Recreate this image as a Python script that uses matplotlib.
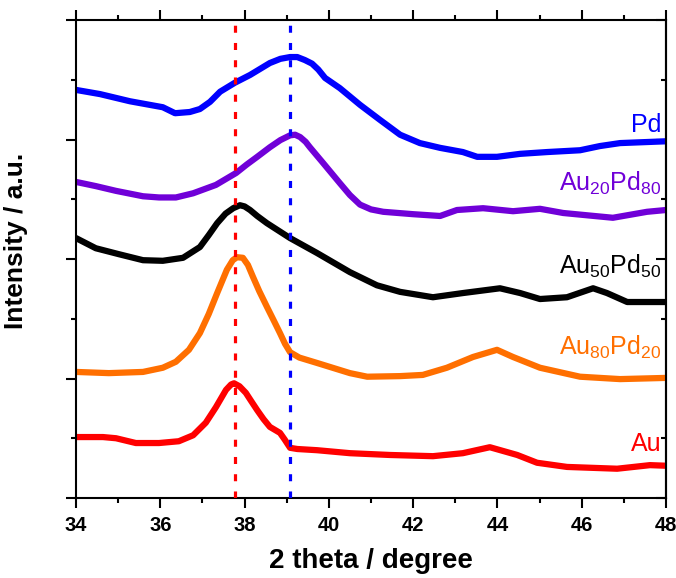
import matplotlib
matplotlib.use("Agg")
import matplotlib.pyplot as plt
from matplotlib.ticker import MultipleLocator, NullFormatter

# ==========================================
# Data (2 theta, offset intensity)
# ==========================================

pd_x = [34.00, 34.57, 35.28, 36.06, 36.35, 36.70, 36.94, 37.18, 37.42, 37.77,
        38.13, 38.60, 38.85, 39.08, 39.25, 39.43, 39.60, 39.75, 39.91, 40.26,
        40.74, 41.21, 41.69, 42.16, 42.64, 43.18, 43.52, 43.99, 44.54, 45.18,
        45.96, 46.43, 46.91, 48.00]
pd_y = [6.83, 6.76, 6.64, 6.54, 6.44, 6.46, 6.51, 6.63, 6.80, 6.95,
        7.08, 7.28, 7.35, 7.38, 7.38, 7.33, 7.27, 7.17, 7.03, 6.86,
        6.58, 6.33, 6.08, 5.94, 5.86, 5.79, 5.71, 5.71, 5.76, 5.79,
        5.82, 5.89, 5.94, 5.97]

au20_x = [34.00, 34.47, 34.95, 35.59, 35.97, 36.37, 36.78, 37.32, 37.80, 38.05,
          38.30, 38.60, 38.85, 39.08, 39.20, 39.32, 39.45, 39.55, 39.86, 40.26,
          40.50, 40.74, 41.00, 41.29, 42.00, 42.64, 43.04, 43.66, 44.37, 45.01,
          45.56, 46.74, 47.55, 48.00]
au20_y = [5.29, 5.22, 5.14, 5.05, 5.03, 5.03, 5.10, 5.24, 5.44, 5.58,
          5.71, 5.87, 5.99, 6.07, 6.08, 6.04, 5.96, 5.87, 5.61, 5.27,
          5.07, 4.91, 4.83, 4.79, 4.75, 4.72, 4.82, 4.85, 4.80, 4.84,
          4.77, 4.69, 4.79, 4.82]

au50_x = [34.00, 34.47, 35.02, 35.59, 36.06, 36.54, 36.94, 37.15, 37.35, 37.55,
          37.73, 37.89, 38.00, 38.13, 38.30, 38.53, 39.08, 39.72, 40.50, 41.14,
          41.69, 42.47, 43.18, 44.06, 44.54, 45.01, 45.65, 46.27, 46.60, 47.08,
          48.00]
au50_y = [4.35, 4.18, 4.08, 3.98, 3.97, 4.02, 4.20, 4.40, 4.60, 4.76,
          4.85, 4.90, 4.88, 4.82, 4.72, 4.60, 4.35, 4.10, 3.78, 3.56,
          3.45, 3.36, 3.43, 3.51, 3.43, 3.33, 3.36, 3.51, 3.43, 3.28,
          3.28]

au80_x = [34.00, 34.78, 35.59, 36.06, 36.37, 36.68, 36.94, 37.15, 37.35, 37.58,
          37.72, 37.82, 37.96, 38.08, 38.20, 38.35, 38.53, 38.70, 38.84, 38.96,
          39.08, 39.30, 39.72, 40.50, 40.91, 41.69, 42.23, 42.80, 43.42, 43.99,
          44.37, 45.01, 45.96, 46.91, 48.00]
au80_y = [2.11, 2.09, 2.11, 2.18, 2.28, 2.48, 2.76, 3.08, 3.43, 3.82,
          3.98, 4.03, 4.02, 3.90, 3.70, 3.46, 3.20, 2.96, 2.76, 2.58,
          2.44, 2.35, 2.26, 2.09, 2.03, 2.04, 2.06, 2.18, 2.36, 2.48,
          2.36, 2.18, 2.03, 1.99, 2.01]

au_x = [34.00, 34.64, 34.95, 35.42, 35.97, 36.44, 36.78, 37.08, 37.32, 37.56,
        37.68, 37.75, 37.88, 38.03, 38.15, 38.30, 38.45, 38.60, 38.84, 38.95,
        39.08, 39.25, 39.72, 40.50, 41.45, 42.47, 43.18, 43.82, 44.47, 44.94,
        45.65, 46.84, 47.62, 48.00]
au_y = [1.02, 1.02, 1.00, 0.92, 0.92, 0.95, 1.05, 1.26, 1.52, 1.81,
        1.90, 1.92, 1.87, 1.76, 1.63, 1.47, 1.32, 1.19, 1.09, 0.98,
        0.84, 0.82, 0.80, 0.75, 0.72, 0.70, 0.75, 0.85, 0.72, 0.59,
        0.52, 0.49, 0.55, 0.54]

series_names = ["Pd", "Au$_{20}$Pd$_{80}$", "Au$_{50}$Pd$_{50}$",
                "Au$_{80}$Pd$_{20}$", "Au"]
series_colors = ["#0000FF", "#7000D8", "#000000", "#FF6F00", "#FF0000"]
label_y = [6.13, 5.14, 3.75, 2.39, 0.79]

au_peak = 37.77
pd_peak = 39.08

# ==========================================
# Figure
# ==========================================

plt.rcParams["font.family"] = ["Liberation Sans", "DejaVu Sans"]
plt.rcParams["mathtext.default"] = "regular"

fig = plt.figure(figsize=(6.76, 5.78), dpi=100)
ax = fig.add_axes([76 / 676, 1 - 498 / 578, 590 / 676, 478 / 578])

xs = [pd_x, au20_x, au50_x, au80_x, au_x]
ys = [pd_y, au20_y, au50_y, au80_y, au_y]

for x, y, c in zip(xs, ys, series_colors):
    ax.plot(x, y, color=c, lw=4.5, solid_capstyle="round",
            solid_joinstyle="round", zorder=2)

for xv, c in [(au_peak, "#FF0000"), (pd_peak, "#0000FF")]:
    ax.axvline(xv, color=c, lw=2.3, dashes=(2.2, 3.2), zorder=3)

for name, c, yv in zip(series_names, series_colors, label_y):
    ax.text(47.9, yv, name, color=c, fontsize=18, ha="right",
            va="baseline")

ax.set_xlim(34, 48)
ax.set_ylim(0, 8)

ax.xaxis.set_major_locator(MultipleLocator(2))
ax.xaxis.set_minor_locator(MultipleLocator(1))
ax.yaxis.set_major_locator(MultipleLocator(2))
ax.yaxis.set_minor_locator(MultipleLocator(1))
ax.yaxis.set_major_formatter(NullFormatter())

for s in ax.spines.values():
    s.set_linewidth(1.5)

ax.tick_params(axis="x", which="both", direction="out", top=True,
               width=1.5, labelsize=14.5, pad=6)
ax.tick_params(axis="x", which="major", length=7)
ax.tick_params(axis="x", which="minor", length=3.5)
ax.tick_params(axis="y", which="both", direction="out", left=True,
               right=False, width=1.5)
ax.tick_params(axis="y", which="major", length=7)
ax.tick_params(axis="y", which="minor", length=3.5)
for lbl in ax.get_xticklabels():
    lbl.set_fontweight("bold")

# right side ticks point inwards
ax_r = ax.secondary_yaxis("right")
ax_r.yaxis.set_major_locator(MultipleLocator(2))
ax_r.yaxis.set_minor_locator(MultipleLocator(1))
ax_r.yaxis.set_major_formatter(NullFormatter())
ax_r.spines["right"].set_linewidth(1.5)
ax_r.tick_params(axis="y", which="both", direction="in", width=1.5)
ax_r.tick_params(axis="y", which="major", length=7)
ax_r.tick_params(axis="y", which="minor", length=3.5)

ax.set_xlabel("2 theta / degree", fontsize=20, fontweight="bold", labelpad=9)
ax.set_ylabel("Intensity / a.u.", fontsize=19, fontweight="bold")
ax.yaxis.set_label_coords(-0.082, 0.538)

fig.savefig("out.png", dpi=100)
